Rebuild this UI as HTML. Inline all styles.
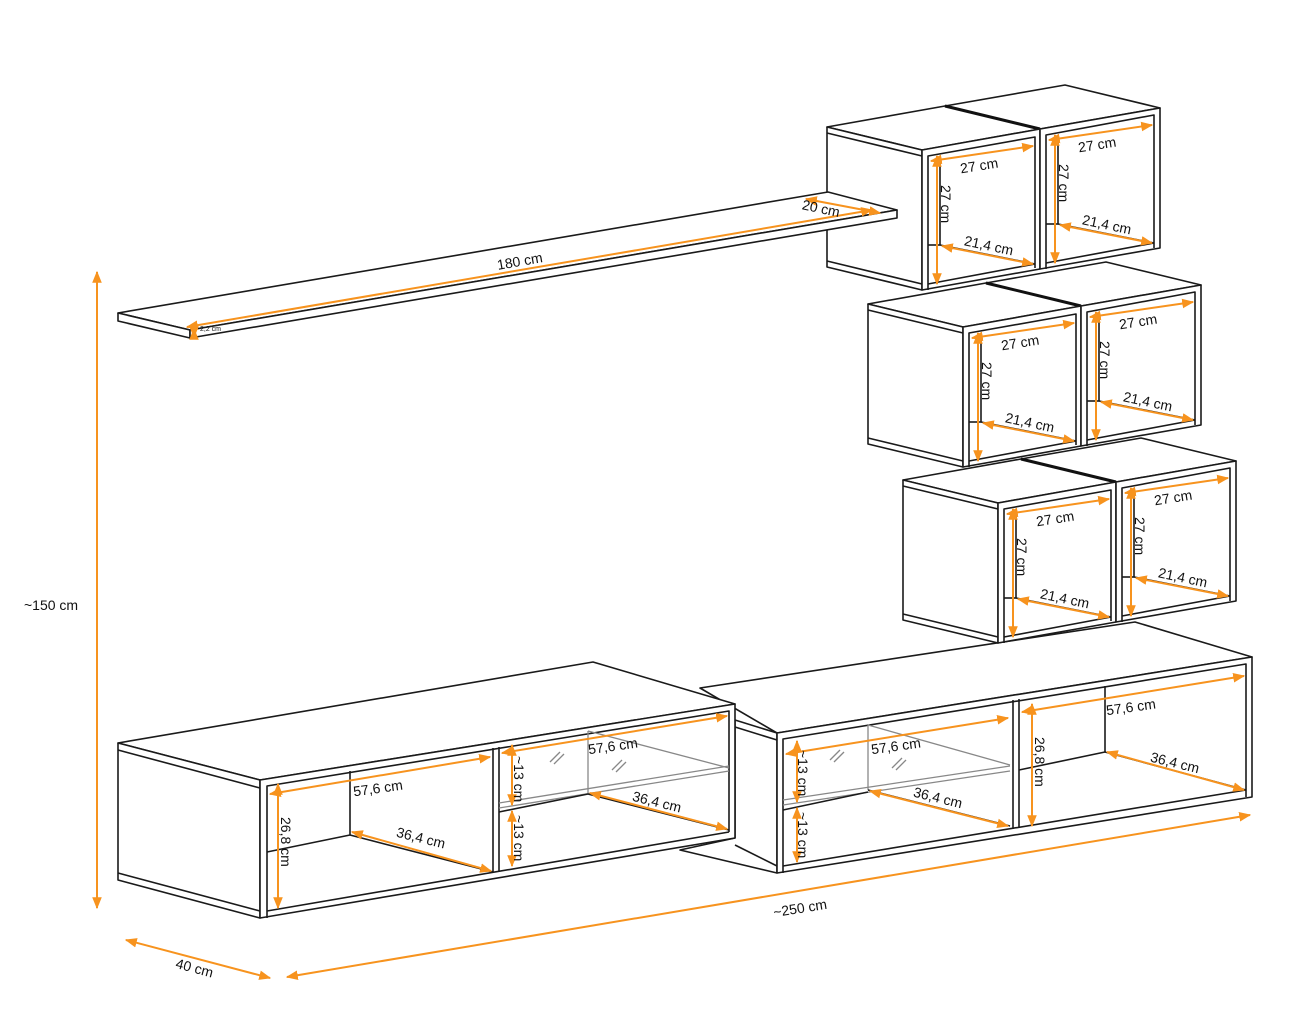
<!DOCTYPE html>
<html><head><meta charset="utf-8"><style>
html,body{margin:0;padding:0;background:#fff}
svg{display:block}
text{font-family:"Liberation Sans",sans-serif;font-size:14px;fill:#111}
.k{fill:none;stroke:#1a1a1a;stroke-width:1.6;stroke-linejoin:round}
.w{fill:#fff;stroke:#1a1a1a;stroke-width:1.6;stroke-linejoin:round}
.g{fill:none;stroke:#888;stroke-width:1.3}
.o{fill:none;stroke:#f7931e;stroke-width:2;marker-start:url(#a);marker-end:url(#a)}
</style></head><body>
<svg width="1313" height="1024" viewBox="0 0 1313 1024" xmlns="http://www.w3.org/2000/svg">
<defs>
<marker id="a" viewBox="0 0 10 10" refX="9" refY="5" markerWidth="6" markerHeight="6" orient="auto-start-reverse"><path d="M0,1 L10,5 L0,9 z" fill="#f7931e"/></marker>
</defs>

<!-- dimensions -->
<line class="o" x1="97" y1="272" x2="97" y2="908"/>
<text x="24" y="610">~150 cm</text>
<line class="o" x1="126" y1="940" x2="270" y2="978"/>
<text x="175" y="973" transform="rotate(15 195 970)">40 cm</text>
<line class="o" x1="287" y1="977" x2="1250" y2="815"/>
<text x="773" y="913" transform="rotate(-9 800 908)">~250 cm</text>

<!-- right TV unit (behind) -->
<polygon class="w" points="700,688 1135,622 1252,657 777,733"/>
<polygon class="w" points="735,720 777,733 777,873 680,850 735,838"/>
<line class="k" x1="735" y1="727" x2="777" y2="740"/>
<line class="k" x1="735" y1="845" x2="777" y2="866"/>
<polygon class="w" points="777,733 1252,657 1252,797 777,873"/>
<polyline class="k" points="783,873 783,739 1246,664 1246,797"/>
<line class="k" x1="783" y1="866" x2="1246" y2="790"/>
<line class="k" x1="1013" y1="700" x2="1013" y2="829"/>
<line class="k" x1="1019" y1="699" x2="1019" y2="828"/>
<line class="k" x1="1105" y1="686" x2="1105" y2="752"/>
<line class="k" x1="1019" y1="770" x2="1105" y2="752"/>
<line class="k" x1="1105" y1="752" x2="1246" y2="790"/>
<line class="g" x1="868" y1="725" x2="868" y2="790"/>
<line class="g" x1="868" y1="725" x2="1010" y2="765"/>
<line class="g" x1="783" y1="800" x2="1010" y2="766"/>
<line class="g" x1="783" y1="805" x2="1010" y2="771"/>
<line class="k" x1="868" y1="790" x2="1010" y2="826"/>
<line class="k" x1="783" y1="810" x2="868" y2="792"/>
<line class="g" x1="830" y1="760" x2="840" y2="750"/><line class="g" x1="834" y1="762" x2="844" y2="752"/>
<line class="g" x1="892" y1="768" x2="902" y2="758"/><line class="g" x1="896" y1="770" x2="906" y2="760"/>
<line class="o" x1="786" y1="754" x2="1008" y2="718"/>
<line class="o" x1="797" y1="741" x2="797" y2="802"/>
<line class="o" x1="797" y1="808" x2="797" y2="862"/>
<line class="o" x1="870" y1="791" x2="1008" y2="826"/>
<line class="o" x1="1022" y1="712" x2="1244" y2="676"/>
<line class="o" x1="1032" y1="704" x2="1032" y2="826"/>
<line class="o" x1="1107" y1="752" x2="1244" y2="790"/>
<text x="871" y="751" transform="rotate(-8 895 746)">57,6 cm</text>
<text x="913" y="803" transform="rotate(14 940 798)">36,4 cm</text>
<text x="1106" y="712" transform="rotate(-8 1130 707)">57,6 cm</text>
<text x="1150" y="768" transform="rotate(14 1177 763)">36,4 cm</text>
<text x="0" y="0" transform="translate(798,750) rotate(90)">~13 cm</text>
<text x="0" y="0" transform="translate(798,812) rotate(90)">~13 cm</text>
<text x="0" y="0" transform="translate(1035,737) rotate(90)">26,8 cm</text>

<!-- left TV unit -->
<polygon class="w" points="118,743 593,662 735,704 260,780"/>
<polygon class="w" points="118,743 260,780 260,918 118,880"/>
<line class="k" x1="118" y1="750" x2="260" y2="788"/>
<line class="k" x1="118" y1="873" x2="260" y2="911"/>
<polygon class="w" points="260,780 735,704 735,838 260,918"/>
<polyline class="k" points="267,918 267,786 729,711 729,832"/>
<line class="k" x1="267" y1="911" x2="729" y2="832"/>
<line class="k" x1="493" y1="748" x2="493" y2="872"/>
<line class="k" x1="499" y1="747" x2="499" y2="871"/>
<line class="k" x1="350" y1="771" x2="350" y2="835"/>
<line class="k" x1="267" y1="852" x2="350" y2="835"/>
<line class="k" x1="350" y1="835" x2="493" y2="872"/>
<line class="g" x1="588" y1="731" x2="588" y2="793"/>
<line class="g" x1="588" y1="731" x2="729" y2="768"/>
<line class="g" x1="499" y1="803" x2="729" y2="766"/>
<line class="g" x1="499" y1="808" x2="729" y2="771"/>
<line class="k" x1="499" y1="812" x2="588" y2="794"/>
<line class="k" x1="588" y1="794" x2="729" y2="830"/>
<line class="g" x1="550" y1="762" x2="560" y2="752"/><line class="g" x1="554" y1="764" x2="564" y2="754"/>
<line class="g" x1="612" y1="770" x2="622" y2="760"/><line class="g" x1="616" y1="772" x2="626" y2="762"/>
<line class="o" x1="270" y1="794" x2="490" y2="757"/>
<line class="o" x1="278" y1="784" x2="278" y2="908"/>
<line class="o" x1="352" y1="832" x2="491" y2="871"/>
<line class="o" x1="502" y1="753" x2="727" y2="716"/>
<line class="o" x1="512" y1="745" x2="512" y2="805"/>
<line class="o" x1="512" y1="811" x2="512" y2="866"/>
<line class="o" x1="590" y1="793" x2="727" y2="829"/>
<text x="353" y="793" transform="rotate(-8 378 788)">57,6 cm</text>
<text x="396" y="843" transform="rotate(14 422 838)">36,4 cm</text>
<text x="588" y="751" transform="rotate(-8 612 746)">57,6 cm</text>
<text x="632" y="807" transform="rotate(14 658 802)">36,4 cm</text>
<text x="0" y="0" transform="translate(281,817) rotate(90)">26,8 cm</text>
<text x="0" y="0" transform="translate(514,756) rotate(90)">~13 cm</text>
<text x="0" y="0" transform="translate(514,815) rotate(90)">~13 cm</text>

<!-- cube rows -->
<g transform="translate(998,503)">
<polygon class="w" points="118,-21 23,-44 143,-65 238,-42"/>
<polygon class="w" points="0,0 -95,-23 23,-44 118,-21"/>
<line x1="23" y1="-44" x2="118" y2="-21" stroke="#111" stroke-width="3"/>
<polygon class="w" points="-95,-23 0,0 0,140 -95,117"/>
<line class="k" x1="-95" y1="-17" x2="0" y2="6"/>
<line class="k" x1="-95" y1="111" x2="0" y2="134"/>
<polygon class="w" points="0,0 118,-21 118,119 0,140"/>
<polyline class="k" points="6,140 6,6 113,-13 113,118"/>
<line class="k" x1="6" y1="134" x2="113" y2="114"/>
<line class="k" x1="18" y1="8" x2="18" y2="95"/><line class="k" x1="6" y1="95" x2="18" y2="95"/><line class="k" x1="18" y1="95" x2="113" y2="114"/>
<line class="o" x1="9" y1="11" x2="111" y2="-4"/><line class="o" x1="15" y1="6" x2="15" y2="134"/><line class="o" x1="20" y1="96" x2="111" y2="114"/>
<text x="38" y="20" transform="rotate(-9 60 15)">27 cm</text>
<text x="42" y="100" transform="rotate(12 65 95)">21,4 cm</text>
<text transform="translate(19,35) rotate(90)">27 cm</text>
<polygon class="w" points="118,-21 238,-42 238,98 118,119"/>
<polyline class="k" points="124,119 124,-15 232,-35 232,98"/>
<line class="k" x1="124" y1="113" x2="232" y2="93"/>
<line class="k" x1="136" y1="-13" x2="136" y2="74"/><line class="k" x1="124" y1="74" x2="136" y2="74"/><line class="k" x1="136" y1="74" x2="232" y2="93"/>
<line class="o" x1="127" y1="-10" x2="230" y2="-25"/><line class="o" x1="133" y1="-15" x2="133" y2="113"/><line class="o" x1="138" y1="75" x2="230" y2="93"/>
<text x="156" y="-1" transform="rotate(-9 178 -6)">27 cm</text>
<text x="160" y="79" transform="rotate(12 183 74)">21,4 cm</text>
<text transform="translate(137,14) rotate(90)">27 cm</text>
</g>

<g transform="translate(963,327)">
<polygon class="w" points="118,-21 23,-44 143,-65 238,-42"/>
<polygon class="w" points="0,0 -95,-23 23,-44 118,-21"/>
<line x1="23" y1="-44" x2="118" y2="-21" stroke="#111" stroke-width="3"/>
<polygon class="w" points="-95,-23 0,0 0,140 -95,117"/>
<line class="k" x1="-95" y1="-17" x2="0" y2="6"/>
<line class="k" x1="-95" y1="111" x2="0" y2="134"/>
<polygon class="w" points="0,0 118,-21 118,119 0,140"/>
<polyline class="k" points="6,140 6,6 113,-13 113,118"/>
<line class="k" x1="6" y1="134" x2="113" y2="114"/>
<line class="k" x1="18" y1="8" x2="18" y2="95"/><line class="k" x1="6" y1="95" x2="18" y2="95"/><line class="k" x1="18" y1="95" x2="113" y2="114"/>
<line class="o" x1="9" y1="11" x2="111" y2="-4"/><line class="o" x1="15" y1="6" x2="15" y2="134"/><line class="o" x1="20" y1="96" x2="111" y2="114"/>
<text x="38" y="20" transform="rotate(-9 60 15)">27 cm</text>
<text x="42" y="100" transform="rotate(12 65 95)">21,4 cm</text>
<text transform="translate(19,35) rotate(90)">27 cm</text>
<polygon class="w" points="118,-21 238,-42 238,98 118,119"/>
<polyline class="k" points="124,119 124,-15 232,-35 232,98"/>
<line class="k" x1="124" y1="113" x2="232" y2="93"/>
<line class="k" x1="136" y1="-13" x2="136" y2="74"/><line class="k" x1="124" y1="74" x2="136" y2="74"/><line class="k" x1="136" y1="74" x2="232" y2="93"/>
<line class="o" x1="127" y1="-10" x2="230" y2="-25"/><line class="o" x1="133" y1="-15" x2="133" y2="113"/><line class="o" x1="138" y1="75" x2="230" y2="93"/>
<text x="156" y="-1" transform="rotate(-9 178 -6)">27 cm</text>
<text x="160" y="79" transform="rotate(12 183 74)">21,4 cm</text>
<text transform="translate(137,14) rotate(90)">27 cm</text>
</g>

<g transform="translate(922,150)">
<polygon class="w" points="118,-21 23,-44 143,-65 238,-42"/>
<polygon class="w" points="0,0 -95,-23 23,-44 118,-21"/>
<line x1="23" y1="-44" x2="118" y2="-21" stroke="#111" stroke-width="3"/>
<polygon class="w" points="-95,-23 0,0 0,140 -95,117"/>
<line class="k" x1="-95" y1="-17" x2="0" y2="6"/>
<line class="k" x1="-95" y1="111" x2="0" y2="134"/>
<polygon class="w" points="0,0 118,-21 118,119 0,140"/>
<polyline class="k" points="6,140 6,6 113,-13 113,118"/>
<line class="k" x1="6" y1="134" x2="113" y2="114"/>
<line class="k" x1="18" y1="8" x2="18" y2="95"/><line class="k" x1="6" y1="95" x2="18" y2="95"/><line class="k" x1="18" y1="95" x2="113" y2="114"/>
<line class="o" x1="9" y1="11" x2="111" y2="-4"/><line class="o" x1="15" y1="6" x2="15" y2="134"/><line class="o" x1="20" y1="96" x2="111" y2="114"/>
<text x="38" y="20" transform="rotate(-9 60 15)">27 cm</text>
<text x="42" y="100" transform="rotate(12 65 95)">21,4 cm</text>
<text transform="translate(19,35) rotate(90)">27 cm</text>
<polygon class="w" points="118,-21 238,-42 238,98 118,119"/>
<polyline class="k" points="124,119 124,-15 232,-35 232,98"/>
<line class="k" x1="124" y1="113" x2="232" y2="93"/>
<line class="k" x1="136" y1="-13" x2="136" y2="74"/><line class="k" x1="124" y1="74" x2="136" y2="74"/><line class="k" x1="136" y1="74" x2="232" y2="93"/>
<line class="o" x1="127" y1="-10" x2="230" y2="-25"/><line class="o" x1="133" y1="-15" x2="133" y2="113"/><line class="o" x1="138" y1="75" x2="230" y2="93"/>
<text x="156" y="-1" transform="rotate(-9 178 -6)">27 cm</text>
<text x="160" y="79" transform="rotate(12 183 74)">21,4 cm</text>
<text transform="translate(137,14) rotate(90)">27 cm</text>
</g>

<!-- shelf (in front of top cube) -->
<polygon class="w" points="118,313 828,192 897,210 190,330"/>
<polygon class="w" points="118,313 190,330 190,338 118,321"/>
<polygon class="w" points="190,330 897,210 897,218 190,338"/>
<line class="o" x1="187" y1="327" x2="872" y2="210"/>
<line class="o" x1="806" y1="199" x2="880" y2="213"/>
<line class="o" x1="194" y1="329" x2="194" y2="337"/>
<text x="200" y="331" style="font-size:7px">2,2 cm</text>
<text x="497" y="266" transform="rotate(-10 520 262)">180 cm</text>
<text x="802" y="213" transform="rotate(12 820 208)">20 cm</text>
</svg>
</body></html>
